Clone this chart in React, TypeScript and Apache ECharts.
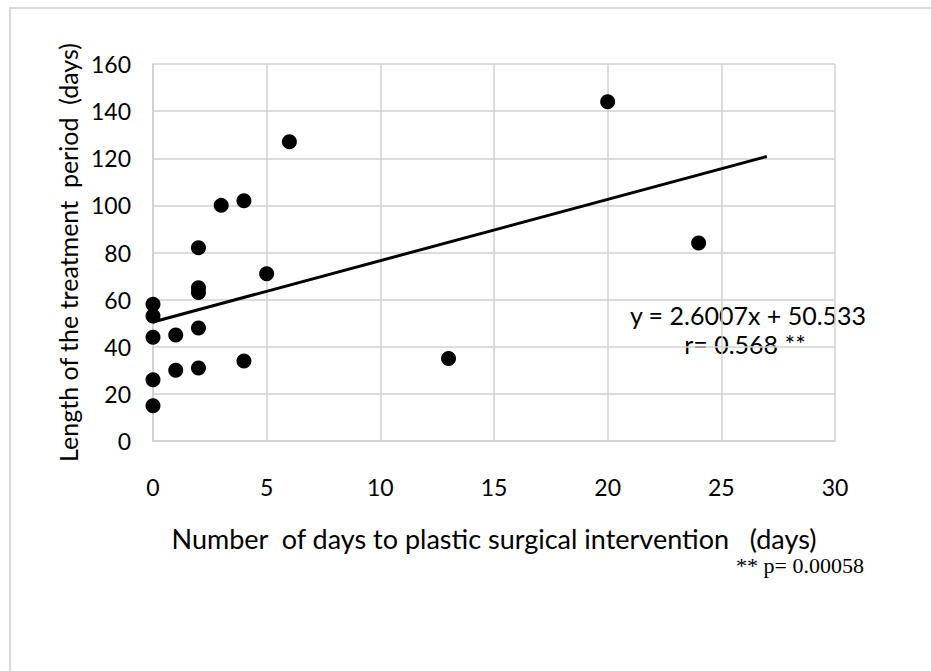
import React, { useEffect, useRef } from "react";
import * as echarts from "echarts";

const xDays = [0, 0, 0, 0, 0, 1, 1, 2, 2, 2, 2, 2, 3, 4, 4, 5, 6, 13, 20, 24];
const yPeriod = [15, 26, 44, 53, 58, 30, 45, 31, 48, 63, 65, 82, 100, 102, 34, 71, 127, 35, 144, 84];
const slope = 2.6007;
const intercept = 50.533;
const trendX = [0, 27];
const xTicks = { min: 0, max: 30, interval: 5 };
const yTicks = { min: 0, max: 160, interval: 20 };

export default function App() {
  const ref = useRef<HTMLDivElement>(null);
  useEffect(() => {
    const chart = echarts.init(ref.current!, undefined, { renderer: "svg" });
    const font = "Lato, 'Open Sans', sans-serif";
    chart.setOption({
      animation: false,
      backgroundColor: "#ffffff",
      grid: { left: 153, right: 96, top: 64, bottom: 230 },
      xAxis: {
        type: "value",
        ...xTicks,
        name: "Number  of days to plastic surgical intervention   (days)",
        nameLocation: "middle",
        nameGap: 84,
        nameTextStyle: { fontFamily: font, fontSize: 27, color: "#000" },
        axisLine: { show: true, lineStyle: { color: "#d0d0d0", width: 1.5 } },
        axisTick: { show: false },
        axisLabel: { fontFamily: font, fontSize: 23, color: "#000", margin: 34 },
        splitLine: { show: true, lineStyle: { color: "#d0d0d0", width: 1.5 } },
      },
      yAxis: {
        type: "value",
        ...yTicks,
        name: "Length of the treatment  period  (days)",
        nameLocation: "middle",
        nameGap: 69,
        nameTextStyle: { fontFamily: font, fontSize: 25, color: "#000" },
        axisLine: { show: true, lineStyle: { color: "#d0d0d0", width: 1.5 } },
        axisTick: { show: false },
        axisLabel: { fontFamily: font, fontSize: 23, color: "#000", margin: 22 },
        splitLine: { show: true, lineStyle: { color: "#d0d0d0", width: 1.5 } },
      },
      series: [
        {
          type: "line",
          data: trendX.map((x) => [x, slope * x + intercept]),
          symbol: "none",
          lineStyle: { color: "#000", width: 3 },
          z: 3,
        },
        {
          type: "scatter",
          data: xDays.map((x, i) => [x, yPeriod[i]]),
          symbol: "circle",
          symbolSize: 15,
          itemStyle: { color: "#000", opacity: 1 },
          z: 4,
        },
      ],
      graphic: [
        {
          type: "rect",
          shape: { x: 10, y: 8, width: 940, height: 700 },
          style: { fill: "none", stroke: "#d9d9d9", lineWidth: 2 },
          silent: true,
        },
        {
          type: "text",
          x: 748,
          y: 315,
          style: {
            text: "y = 2.6007x + 50.533",
            fontFamily: font,
            fontSize: 25,
            fill: "#000",
            align: "center",
            verticalAlign: "middle",
          },
        },
        {
          type: "text",
          x: 745,
          y: 344,
          style: {
            text: "r= 0.568 **",
            fontFamily: font,
            fontSize: 25,
            fill: "#000",
            align: "center",
            verticalAlign: "middle",
          },
        },
        {
          type: "text",
          x: 864,
          y: 565,
          style: {
            text: "** p= 0.00058",
            fontFamily: "'Liberation Serif', serif",
            fontSize: 22,
            fill: "#000",
            align: "right",
            verticalAlign: "middle",
          },
        },
      ],
    });
    return () => chart.dispose();
  }, []);
  return (
    <div
      ref={ref}
      style={{ position: "fixed", left: 0, top: 0, width: 931, height: 671 }}
    />
  );
}
